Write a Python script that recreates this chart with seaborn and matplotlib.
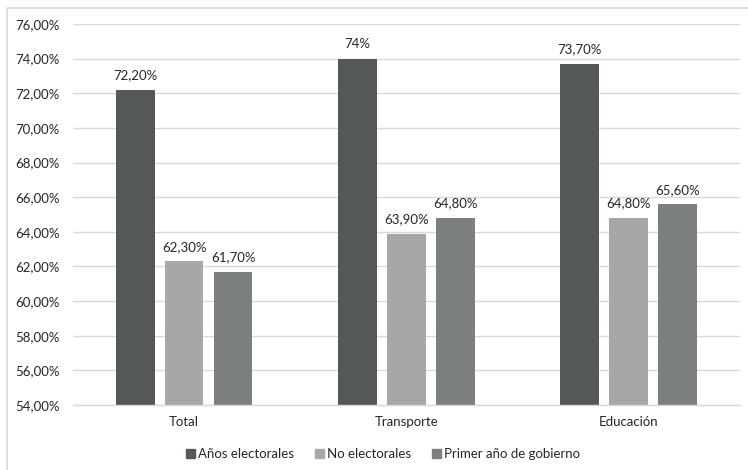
import matplotlib
matplotlib.use("Agg")
import matplotlib.pyplot as plt
import matplotlib.patches as mpatches
from matplotlib.ticker import FuncFormatter, MultipleLocator
import seaborn as sns
import pandas as pd

categories = ["Total", "Transporte", "Educación"]
series = ["Años electorales", "No electorales", "Primer año de gobierno"]
anos_electorales = [72.2, 74.0, 73.7]
no_electorales = [62.3, 63.9, 64.8]
primer_ano = [61.7, 64.8, 65.6]

colors = ["#555859", "#A6A8A8", "#7C7F7F"]

rows = []
for s, vals in zip(series, [anos_electorales, no_electorales, primer_ano]):
    for c, v in zip(categories, vals):
        rows.append({"categoria": c, "serie": s, "valor": v})
df = pd.DataFrame(rows)

sns.set_theme(style="white")
plt.rcParams["font.family"] = ["Lato", "DejaVu Sans"]
FS = 9.5

fig = plt.figure(figsize=(7.48, 4.70), dpi=100)
ax = fig.add_axes([0.0976, 0.1383, 0.8914, 0.8107])

sns.barplot(data=df, x="categoria", y="valor", hue="serie", order=categories,
            hue_order=series, palette=colors, width=0.66, gap=0.21,
            saturation=1, ax=ax, legend=True, linewidth=0,
            err_kws={"linewidth": 0})


def pct_label(v):
    if float(v).is_integer():
        return f"{int(v)}%"
    return f"{v:.2f}".replace(".", ",") + "%"


for cont in ax.containers:
    for bar in cont:
        h = bar.get_height()
        ax.annotate(pct_label(h), (bar.get_x() + bar.get_width() / 2, h),
                    xytext=(0, 6), textcoords="offset points",
                    ha="center", va="bottom", fontsize=FS, color="#262626")

ax.set_ylim(54, 76)
ax.yaxis.set_major_locator(MultipleLocator(2))
ax.yaxis.set_major_formatter(FuncFormatter(lambda v, p: f"{v:.2f}".replace(".", ",") + "%"))
ax.set_xlim(-0.5, 2.5)
ax.grid(axis="y", color="#D9D9D9", linewidth=1)
ax.set_axisbelow(True)
for side in ["top", "right", "left"]:
    ax.spines[side].set_visible(False)
ax.spines["bottom"].set_color("#D9D9D9")
ax.spines["bottom"].set_linewidth(1)
ax.tick_params(axis="both", length=0, labelsize=FS, labelcolor="#262626")
ax.tick_params(axis="y", pad=9.5)
ax.tick_params(axis="x", pad=8)
ax.set_xlabel("")
ax.set_ylabel("")

handles = [mpatches.Patch(color=c, label=s) for c, s in zip(colors, series)]
ax.legend(handles=handles, loc="center", bbox_to_anchor=(0.465, -0.129),
          ncol=3, frameon=False, fontsize=FS, handlelength=0.65, handleheight=0.65,
          handletextpad=0.25, columnspacing=1.6, labelcolor="#262626")

border = mpatches.Rectangle((0.0094, -0.05), 1.05, 0.033 + 1.0,
                            transform=fig.transFigure, fill=False,
                            edgecolor="#D9D9D9", linewidth=1.2, clip_on=False)
fig.patches.append(border)

fig.savefig("out.png", dpi=100)
